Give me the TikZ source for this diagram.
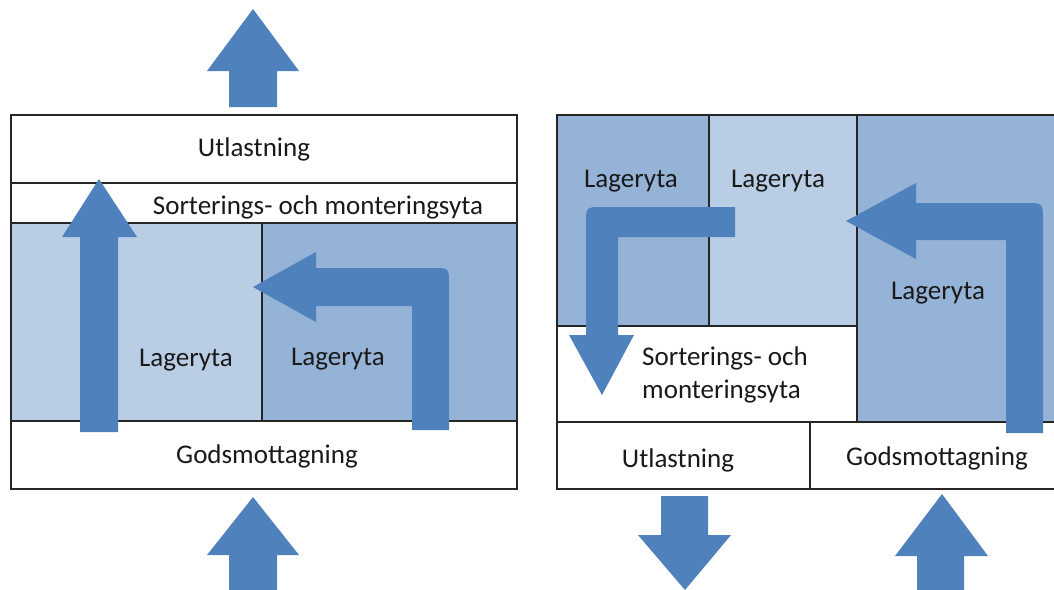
\documentclass[tikz,border=0pt]{standalone}
\usepackage{fontspec}
\setmainfont{Carlito}
\begin{document}
\begin{tikzpicture}[x=1pt,y=-1pt,
  frame/.style={draw=black!85,line width=1.3pt},
  light/.style={fill=lightblue},
  medium/.style={fill=midblue},
  flow/.style={fill=flowblue},
  lbl/.style={font=\fontsize{27}{33}\selectfont,text=black!90,inner sep=0pt,anchor=mid}]
\definecolor{lightblue}{HTML}{B9CDE5}
\definecolor{midblue}{HTML}{95B3D7}
\definecolor{flowblue}{HTML}{4F81BD}
\useasboundingbox (0,0) rectangle (1054,589);
\clip (0,0) rectangle (1054,589);

% ---------- left layout ----------
\fill[light] (11,223) rectangle (262,421);
\fill[medium] (262,223) rectangle (517,421);
\draw[frame] (11,115) rectangle (517,489);
\draw[frame] (11,183) -- (517,183);
\draw[frame] (11,223) -- (517,223);
\draw[frame] (11,421) -- (517,421);
\draw[frame] (262,223) -- (262,421);

% inbound / outbound flow
\fill[flow] (253,9) -- (299,71) -- (277,71) -- (277,107) -- (229,107) -- (229,71) -- (207,71) -- cycle;
\fill[flow] (253,497) -- (299,555) -- (277,555) -- (277,600) -- (229,600) -- (229,555) -- (207,555) -- cycle;
% straight path through the store
\fill[flow] (99,179) -- (137,237) -- (118,237) -- (118,432) -- (80,432) -- (80,237) -- (62,237) -- cycle;
% bent path into the left store
\fill[flow] (253,287) -- (316,252) -- (316,268) -- (433,268) .. controls (449,268) .. (449,284)
  -- (449,430) -- (412,430) -- (412,306) -- (316,306) -- (316,322) -- cycle;

\node[lbl] (lut) at (254,154) {Utlastning};
\node[lbl] (lsort) at (318,212) {Sorterings- och monteringsyta};
\node[lbl] (llag1) at (186,364) {Lageryta};
\node[lbl] (llag2) at (338,363) {Lageryta};
\node[lbl] (lgods) at (267,461) {Godsmottagning};

% ---------- right layout ----------
\fill[medium] (557,115) rectangle (709,326);
\fill[light] (709,115) rectangle (857,326);
\fill[medium] (857,115) rectangle (1064,422);
\draw[frame] (557,115) rectangle (1064,489);
\draw[frame] (709,115) -- (709,326);
\draw[frame] (857,115) -- (857,422);
\draw[frame] (557,326) -- (857,326);
\draw[frame] (557,422) -- (1064,422);
\draw[frame] (810,422) -- (810,489);

% bent path from the stores to sorting
\fill[flow] (735,207) -- (602,207) .. controls (586,207) .. (586,223) -- (586,335) -- (569,335)
  -- (602,395) -- (634,335) -- (618,335) -- (618,237) -- (735,237) -- cycle;
% bent path from goods reception into the stores
\fill[flow] (846,221) -- (916,183) -- (916,203) -- (1025,203) .. controls (1043,203) .. (1043,221)
  -- (1043,433) -- (1006,433) -- (1006,240) -- (916,240) -- (916,259) -- cycle;
% outbound and inbound flow
\fill[flow] (661,496) -- (708,496) -- (708,535) -- (731,535) -- (685,590) -- (638,535) -- (661,535) -- cycle;
\fill[flow] (942,494) -- (988,556) -- (964,556) -- (964,600) -- (917,600) -- (917,556) -- (895,556) -- cycle;

\node[lbl] (rlag1) at (631,185) {Lageryta};
\node[lbl] (rlag2) at (778,185) {Lageryta};
\node[lbl] (rlag3) at (938,297) {Lageryta};
\node[lbl,anchor=west,align=left] (rsort) at (642,375) {Sorterings- och\\monteringsyta};
\node[lbl] (rut) at (678,465) {Utlastning};
\node[lbl] (rgods) at (937,463) {Godsmottagning};
\end{tikzpicture}
\end{document}
